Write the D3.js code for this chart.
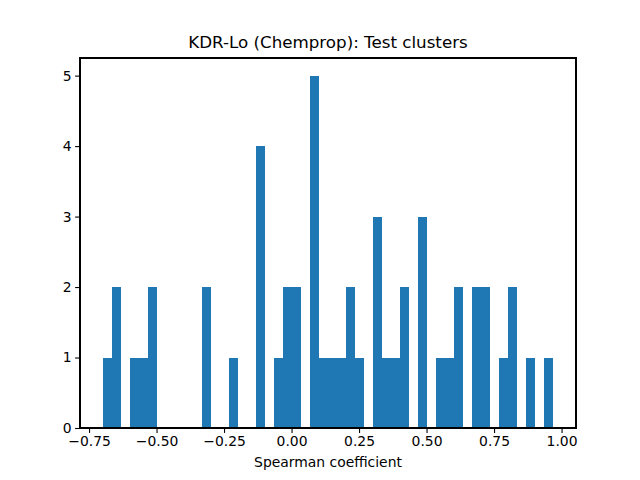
<!DOCTYPE html>
<meta charset="utf-8">
<script src="https://d3js.org/d3.v7.min.js"></script>
<style>
  body { margin: 0; background: #fff; }
  text { font-family: "DejaVu Sans", sans-serif; fill: #000; }
</style>
<div id="graph"></div>
<script>
  // histogram counts, 50 equal bins between binMin and binMax
  var binMin = -0.70, binMax = 0.97;
  var counts = [1, 2, 0, 1, 1, 2, 0, 0, 0, 0,
                0, 2, 0, 0, 1, 0, 0, 4, 0, 1,
                2, 2, 0, 5, 1, 1, 1, 2, 1, 0,
                3, 1, 1, 2, 0, 3, 0, 1, 1, 2,
                0, 2, 2, 0, 1, 2, 0, 1, 0, 1];
  var xTicks = [-0.75, -0.5, -0.25, 0, 0.25, 0.5, 0.75, 1.0];
  var yTicks = [0, 1, 2, 3, 4, 5];

  var margin = { top: 58, right: 64, bottom: 52, left: 80 },
    width = 640 - margin.left - margin.right,
    height = 480 - margin.top - margin.bottom;

  var svg = d3.select("#graph")
    .append("svg")
    .attr("width", 640)
    .attr("height", 480)
    .append("g")
    .attr("transform", "translate(" + margin.left + "," + margin.top + ")");

  var step = (binMax - binMin) / counts.length;
  var bins = counts.map(function (c, i) {
    return { x0: binMin + i * step, x1: binMin + (i + 1) * step, n: c };
  });

  var pad = (binMax - binMin) * 0.05;
  var x = d3.scaleLinear().domain([binMin - pad, binMax + pad]).range([0, width]);
  var y = d3.scaleLinear().domain([0, d3.max(counts) * 1.05]).range([height, 0]);

  svg.selectAll("rect.bar")
    .data(bins.filter(function (d) { return d.n > 0; }))
    .enter()
    .append("rect")
    .attr("class", "bar")
    .attr("x", function (d) { return x(d.x0); })
    .attr("y", function (d) { return y(d.n); })
    .attr("width", function (d) { return x(d.x1) - x(d.x0); })
    .attr("height", function (d) { return height - y(d.n); })
    .attr("fill", "#1f77b4")
    .attr("shape-rendering", "crispEdges");

  var fmt = function (d) { return d3.format(".2f")(d).replace("-", "\u2212"); };

  var xAxis = svg.append("g")
    .attr("transform", "translate(0," + height + ")")
    .call(d3.axisBottom(x).tickValues(xTicks).tickFormat(fmt).tickSize(4.9).tickPadding(3.5));
  var yAxis = svg.append("g")
    .call(d3.axisLeft(y).tickValues(yTicks).tickFormat(d3.format("d")).tickSize(4.9).tickPadding(3.5));

  [xAxis, yAxis].forEach(function (g) {
    g.select(".domain").remove();
    g.selectAll("line").attr("stroke", "#000").attr("stroke-width", 1.1);
    g.selectAll("text").style("font-size", "13.9px").style("font-family", "DejaVu Sans");
  });

  // frame
  svg.append("rect")
    .attr("width", width).attr("height", height)
    .attr("fill", "none").attr("stroke", "#000").attr("stroke-width", 1.1)
    .attr("shape-rendering", "crispEdges");

  svg.append("text")
    .attr("x", width / 2).attr("y", -10)
    .attr("text-anchor", "middle")
    .style("font-size", "16.7px")
    .text("KDR-Lo (Chemprop): Test clusters");

  svg.append("text")
    .attr("x", width / 2).attr("y", height + 39)
    .attr("text-anchor", "middle")
    .style("font-size", "13.9px")
    .text("Spearman coefficient");
</script>
